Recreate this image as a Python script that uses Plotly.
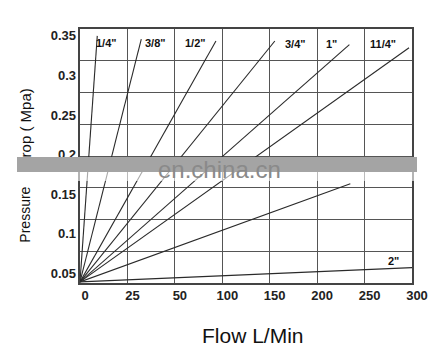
import numpy as np
import plotly.graph_objects as go

# ---- data ----
flow_ticks = [0, 25, 50, 100, 150, 200, 250, 300]          # x tick labels (L/min), drawn equally spaced
pressure_ticks = [0.05, 0.1, 0.15, 0.2, 0.25, 0.3, 0.35]   # y tick labels (MPa)
sizes = ['1/4"', '3/8"', '1/2"', '3/4"', '1"', '11/4"', '11/2"', '2"']
start_flow = 0.0
start_pressure = 0.039
end_flow = [9.1, 32.3, 93.3, 155.4, 234.0, 296.9, 235.0, 300.0]
end_pressure = [0.350, 0.346, 0.3435, 0.3435, 0.339, 0.335, 0.163, 0.057]
label_flow = [14.2, 39.8, 72.1, 177.4, 215.2, 269.6, None, 280.1]
label_pressure = [0.341, 0.341, 0.341, 0.3397, 0.3397, 0.3397, None, 0.0654]

# axis position for the (non-linear, equally spaced) flow scale
tick_pos = np.arange(len(flow_ticks))
def fpos(f):
    return float(np.interp(f, flow_ticks, tick_pos))

y_lo, y_hi = 0.0376, 0.3587
grid_vals = list(np.linspace(y_lo, y_hi, 9))

FONT = "Liberation Sans, Arial"

fig = go.Figure()
for name, ef, ep in zip(sizes, end_flow, end_pressure):
    fig.add_trace(go.Scatter(
        x=[fpos(start_flow), fpos(ef)], y=[start_pressure, ep],
        mode="lines", name=name, showlegend=False,
        line=dict(color="#2a2a2a", width=1.1), hoverinfo="skip"))

# invisible trace for the tick-label axis
fig.add_trace(go.Scatter(x=[0], y=[y_lo], yaxis="y2", mode="markers",
                         marker=dict(opacity=0), showlegend=False, hoverinfo="skip"))

ann = []
for name, lf, lp in zip(sizes, label_flow, label_pressure):
    if lf is None:
        continue
    ann.append(dict(x=fpos(lf), y=lp, xref="x", yref="y", text=name, showarrow=False,
                    font=dict(family=FONT, size=11, color="#111", weight="bold"),
                    xanchor="center", yanchor="middle"))

ann.append(dict(x=0.521, y=-0.206, xref="paper", yref="paper", text="Flow L/Min",
                showarrow=False, font=dict(family=FONT, size=21, color="#111"),
                xanchor="center", yanchor="middle"))
# y-axis title (split so the part hidden by the watermark band falls under it)
ann.append(dict(x=-0.165, y=0.270, xref="paper", yref="paper", text="Pressure",
                textangle=-90, showarrow=False,
                font=dict(family=FONT, size=14, color="#111"),
                xanchor="center", yanchor="middle"))
ann.append(dict(x=-0.165, y=0.610, xref="paper", yref="paper", text="Drop ( Mpa)",
                textangle=-90, showarrow=False,
                font=dict(family=FONT, size=15, color="#111"),
                xanchor="center", yanchor="middle"))
# watermark band + text (drawn last so it covers the text beneath)
ann.append(dict(x=0.413, y=0.466, xref="paper", yref="paper", text=" ", showarrow=False,
                width=400, height=15, bgcolor="#a4a4a4", borderpad=0, borderwidth=0,
                xanchor="center", yanchor="middle"))
ann.append(dict(x=0.413, y=0.419, xref="paper", yref="paper", text=" ", showarrow=False,
                width=400, height=9, bgcolor="rgba(255,255,255,0.6)", borderpad=0, borderwidth=0,
                xanchor="center", yanchor="middle"))
ann.append(dict(x=0.419, y=0.448, xref="paper", yref="paper", text="en.china.cn",
                showarrow=False, font=dict(family=FONT, size=24, color="#8a8a8a"),
                xanchor="center", yanchor="middle"))

fig.update_layout(
    width=440, height=359,
    margin=dict(l=80, r=26, t=29, b=76),
    paper_bgcolor="white", plot_bgcolor="white",
    xaxis=dict(range=[0, 7], tickvals=list(tick_pos), ticktext=[str(v) for v in flow_ticks],
               showgrid=True, gridcolor="#555", gridwidth=1, zeroline=False,
               showline=True, linecolor="#444", linewidth=1.5, mirror=True, ticks="",
               ticklabelshift=5,
               tickfont=dict(family=FONT, size=13, color="#222", weight="bold")),
    yaxis=dict(range=[y_lo, y_hi], tickmode="array", tickvals=grid_vals, showticklabels=False,
               showgrid=True, gridcolor="#555", gridwidth=1, zeroline=False,
               showline=True, linecolor="#444", linewidth=1.5, mirror=True, ticks=""),
    yaxis2=dict(range=[y_lo, y_hi], overlaying="y", side="left", tickvals=pressure_ticks,
                ticktext=[f"{v:g}" for v in pressure_ticks], showgrid=False, zeroline=False,
                showline=False, ticks="", ticklabelstandoff=3,
                tickfont=dict(family=FONT, size=13, color="#222", weight="bold")),
    annotations=ann,
)

fig.write_html("out.html")
